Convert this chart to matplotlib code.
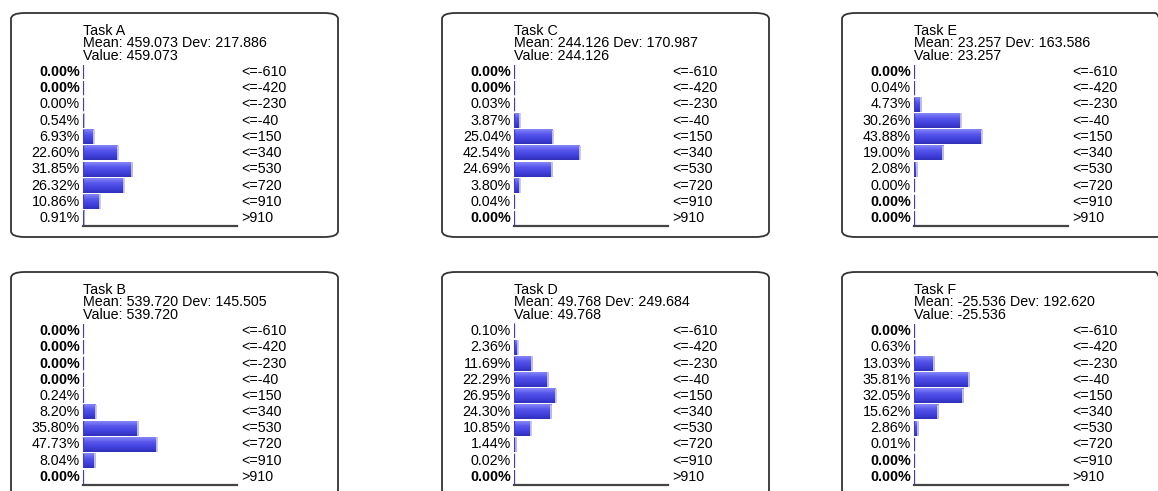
import numpy as np
import matplotlib
matplotlib.use("Agg")
import matplotlib.pyplot as plt
from matplotlib.patches import FancyBboxPatch
from matplotlib.colors import LinearSegmentedColormap

plt.rcParams["font.family"] = ["Liberation Sans", "DejaVu Sans"]

# bins shown on the right of every panel
bins = ["<=-610", "<=-420", "<=-230", "<=-40", "<=150",
        "<=340", "<=530", "<=720", "<=910", ">910"]

# percentages per bin
task_a = [0.00, 0.00, 0.00, 0.54, 6.93, 22.60, 31.85, 26.32, 10.86, 0.91]
task_b = [0.00, 0.00, 0.00, 0.00, 0.24, 8.20, 35.80, 47.73, 8.04, 0.00]
task_c = [0.00, 0.00, 0.03, 3.87, 25.04, 42.54, 24.69, 3.80, 0.04, 0.00]
task_d = [0.10, 2.36, 11.69, 22.29, 26.95, 24.30, 10.85, 1.44, 0.02, 0.00]
task_e = [0.00, 0.04, 4.73, 30.26, 43.88, 19.00, 2.08, 0.00, 0.00, 0.00]
task_f = [0.00, 0.63, 13.03, 35.81, 32.05, 15.62, 2.86, 0.01, 0.00, 0.00]

# rows whose label is bold (exactly zero)
bold_a = [0, 1]
bold_b = [0, 1, 2, 3, 9]
bold_c = [0, 1, 9]
bold_d = [9]
bold_e = [0, 8, 9]
bold_f = [0, 8, 9]

names = ["Task A", "Task B", "Task C", "Task D", "Task E", "Task F"]
means = [459.073, 539.720, 244.126, 49.768, 23.257, -25.536]
devs = [217.886, 145.505, 170.987, 249.684, 163.586, 192.620]

values = [task_a, task_b, task_c, task_d, task_e, task_f]
bolds = [bold_a, bold_b, bold_c, bold_d, bold_e, bold_f]

W, H = 1158, 491
fig = plt.figure(figsize=(W / 100, H / 100), dpi=100)

# panel box corners (left, top) in pixels: A, B in col 1, C, D col 2, E, F col 3
origins = [(11, 13), (11, 272), (442, 13), (442, 272), (842, 13), (842, 272)]
box_w, box_h = 327, 224

cmap = LinearSegmentedColormap.from_list(
    "bar", ["#8686f8", "#5656ec", "#4242de", "#3030bc"])
grad = np.linspace(0, 1, 32).reshape(-1, 1)
fs = 10.3


def fx(px):
    return px / W


def fy(py):
    return 1 - py / H


for k in range(6):
    x0, y0 = origins[k]
    box = FancyBboxPatch((fx(x0), fy(y0 + box_h)), box_w / W, box_h / H,
                         boxstyle="round,pad=0,rounding_size=0.012",
                         transform=fig.transFigure, fill=False,
                         edgecolor="#333333", linewidth=1.3)
    fig.patches.append(box)

    # header text
    tx = fx(x0 + 72)
    fig.text(tx, fy(y0 + 22), names[k], fontsize=fs, va="baseline")
    fig.text(tx, fy(y0 + 34.3), "Mean: %.3f Dev: %.3f" % (means[k], devs[k]),
             fontsize=fs, va="baseline")
    fig.text(tx, fy(y0 + 47), "Value: %.3f" % means[k],
             fontsize=fs, va="baseline")

    ax_l, ax_t, ax_w, ax_h = x0 + 72, y0 + 51, 154, 162
    ax = fig.add_axes([fx(ax_l), fy(ax_t + ax_h), ax_w / W, ax_h / H])
    vals = values[k]
    rows = np.arange(len(vals))
    for i, v in enumerate(vals):
        if v > 0:
            ax.imshow(grad, extent=(0, v, i + 0.45, i - 0.45), cmap=cmap,
                      aspect="auto", interpolation="bilinear")
    ax.vlines(vals, rows - 0.45, rows + 0.45, color="#c8c8dc", linewidth=1.3)
    ax.vlines(np.zeros(len(vals)), rows - 0.42, rows + 0.42,
              color="#3a3ae0", linewidth=1.6)
    ax.set_xlim(0, 100)
    ax.set_ylim(len(vals) - 0.5, -0.5)
    ax.set_xticks([])
    ax.set_yticks([])
    for s in ["top", "right", "left"]:
        ax.spines[s].set_visible(False)
    ax.spines["bottom"].set_color("#444444")
    ax.spines["bottom"].set_linewidth(1.6)
    ax.patch.set_alpha(0)

    for i, v in enumerate(vals):
        w = "bold" if i in bolds[k] else "normal"
        ax.text(-0.02, i, "%.2f%%" % v, transform=ax.get_yaxis_transform(),
                ha="right", va="center", fontsize=fs, fontweight=w)
        ax.text(1.03, i, bins[i], transform=ax.get_yaxis_transform(),
                ha="left", va="center", fontsize=fs)

fig.savefig("out.png", dpi=100)
